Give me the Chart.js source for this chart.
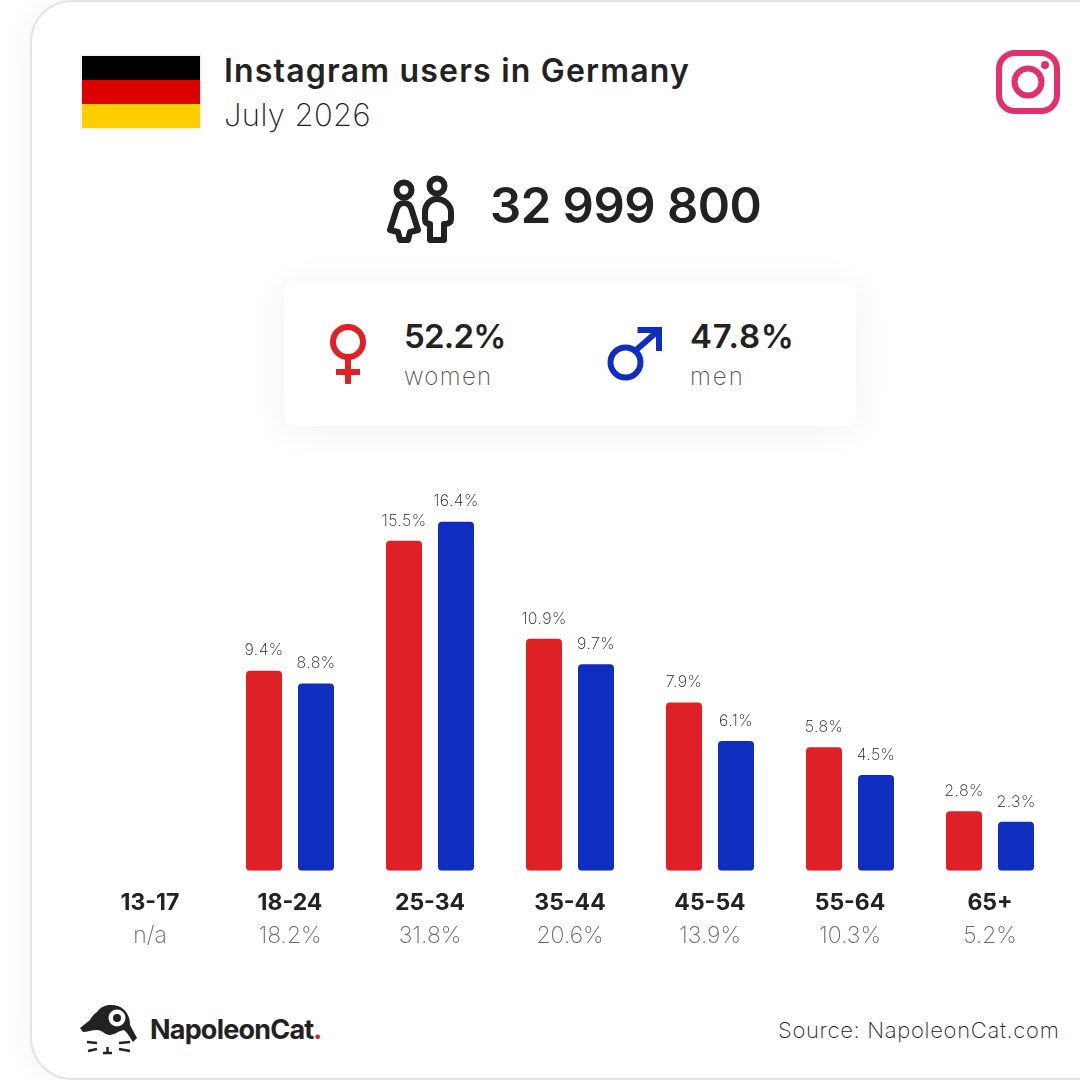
<!DOCTYPE html>
<html>
<head>
<meta charset="utf-8">
<script src="https://cdn.jsdelivr.net/npm/chart.js@4/dist/chart.umd.min.js"></script>
<style>
html, body { margin: 0; padding: 0; background: #fff; width: 1080px; height: 1080px; overflow: hidden; }
body { position: relative; font-family: Inter, sans-serif; color: #222; }
.card { position: absolute; left: 30px; top: 0; width: 1200px; height: 1076px; border: 2px solid #e3e3e3; border-radius: 42px; background: #fff; box-shadow: 0 0 34px rgba(0,0,0,.05); }
.panel { position: absolute; left: 284px; top: 282px; width: 572px; height: 144px; border-radius: 9px; background: #fff; box-shadow: 0 4px 40px rgba(0,0,0,.06); }
.t { position: absolute; white-space: nowrap; line-height: 1; }
svg.icons { position: absolute; left: 0; top: 0; }
canvas { position: absolute; left: 0; top: 0; }
</style>
</head>
<body>
<div class="card"></div>
<div class="panel"></div>

<svg class="icons" width="1080" height="1080" viewBox="0 0 1080 1080">
  <!-- flag -->
  <rect x="80" y="54" width="122" height="76" fill="#f3f3f3"/>
  <rect x="82" y="56" width="118" height="24" fill="#000"/>
  <rect x="82" y="80" width="118" height="24" fill="#dd0000"/>
  <rect x="82" y="104" width="118" height="24" fill="#ffce00"/>
  <!-- instagram -->
  <g fill="none" stroke="#e1306c" stroke-width="6">
    <rect x="999" y="53" width="58" height="58" rx="16"/>
    <circle cx="1028" cy="82" r="13.5"/>
  </g>
  <circle cx="1045" cy="65" r="4" fill="#e1306c"/>
  <!-- people -->
  <g fill="none" stroke="#222" stroke-width="6" stroke-linejoin="round">
    <circle cx="404" cy="190" r="7.5"/>
    <circle cx="437" cy="186" r="7.5"/>
    <path d="M404 203 C399 203 397 206 396 211 L390 230 L398 232 L400 240 H408 L410 232 L418 230 L412 211 C411 206 409 203 404 203 Z"/>
    <path d="M437 199 C430 199 425 205 425 212 V219 Q425 224 430 224 V240 H444 V224 Q451 224 451 219 V212 C451 205 444 199 437 199 Z"/>
  </g>
  <!-- female -->
  <circle cx="348" cy="342" r="15" fill="none" stroke="#e02027" stroke-width="6"/>
  <path d="M348 358 V384 M336 372 H360" fill="none" stroke="#e02027" stroke-width="6"/>
  <!-- male -->
  <circle cx="625.5" cy="362.5" r="15" fill="none" stroke="#0f2dbf" stroke-width="6"/>
  <path d="M635 351 L659 330 M637.5 330 H659 V351" fill="none" stroke="#0f2dbf" stroke-width="6"/>
  <!-- napoleon cat -->
  <path fill="#222" d="M80 1028 L90 1020 Q93 1014 97 1012 C101 1007 105 1005 110 1005 C122 1004 130 1013 130 1025 L137 1038 L133 1042 L127 1033 L124 1030 C118 1031 114 1035 110 1035 C105 1035 102 1030 97 1030 C92 1030 87 1032 83 1032 Z"/>
  <circle cx="117" cy="1018" r="8.5" fill="#fff"/>
  <circle cx="117" cy="1018" r="4" fill="#222"/>
  <path d="M87 1042 L97 1043 M88 1051 L97 1049 M119 1043 L130 1042 M119 1049 L130 1051 M103 1053 H112 M107.5 1047 V1053" fill="none" stroke="#222" stroke-width="2.4"/>
</svg>

<div class="t" style="left:224px;top:55px;font-size:32px;font-weight:600;letter-spacing:1.2px">Instagram users in Germany</div>
<div class="t" style="left:224px;top:99px;font-size:31px;font-weight:200;letter-spacing:.4px">July 2026</div>
<div class="t" style="left:490px;top:181px;font-size:49px;font-weight:600;letter-spacing:-.5px">32 999 800</div>
<div class="t" style="left:404px;top:320px;font-size:33px;font-weight:600;letter-spacing:-.8px">52.2%</div>
<div class="t" style="left:404px;top:365px;font-size:24px;font-weight:200;letter-spacing:1.3px;color:#555">women</div>
<div class="t" style="left:690px;top:320px;font-size:33px;font-weight:600;letter-spacing:.8px">47.8%</div>
<div class="t" style="left:690px;top:365px;font-size:24px;font-weight:200;letter-spacing:2px;color:#555">men</div>
<div class="t" style="left:150px;top:1016px;font-size:27px;font-weight:700;letter-spacing:-.8px">NapoleonCat<span style="color:#e02027">.</span></div>
<div class="t" style="left:778px;top:1019px;font-size:22px;font-weight:200;letter-spacing:.7px;color:#222">Source: NapoleonCat.com</div>

<canvas id="bars" width="1080" height="1080"></canvas>

<script>
const ageGroups = ["13-17", "18-24", "25-34", "35-44", "45-54", "55-64", "65+"];
const groupTotals = ["n/a", "18.2%", "31.8%", "20.6%", "13.9%", "10.3%", "5.2%"];
const women = [null, 9.4, 15.5, 10.9, 7.9, 5.8, 2.8];
const men = [null, 8.8, 16.4, 9.7, 6.1, 4.5, 2.3];

// percent labels over the bars
const barLabels = {
  id: 'barLabels',
  afterDatasetsDraw(chart) {
    const ctx = chart.ctx;
    ctx.save();
    ctx.font = '200 16px Inter';
    ctx.letterSpacing = '0.4px';
    ctx.fillStyle = '#222';
    ctx.textAlign = 'center';
    ctx.textBaseline = 'middle';
    chart.data.datasets.forEach((ds, i) => {
      chart.getDatasetMeta(i).data.forEach((bar, j) => {
        if (ds.data[j] === null) return;
        ctx.fillText(ds.data[j].toFixed(1) + '%', bar.x, bar.y - 20);
      });
    });
    ctx.restore();
  }
};

new Chart(document.getElementById("bars"), {
  type: 'bar',
  data: {
    labels: ageGroups,
    datasets: [
      { label: "women", data: women, backgroundColor: "#e02027" },
      { label: "men", data: men, backgroundColor: "#0f2dbf" }
    ]
  },
  options: {
    responsive: false,
    animation: false,
    devicePixelRatio: 1,
    categoryPercentage: 104 / 140,
    barPercentage: 36 / 52,
    borderRadius: 4,
    borderSkipped: false,
    layout: { padding: { left: 80, right: 20, top: 445, bottom: 123.6 } },
    plugins: { legend: { display: false }, tooltip: { enabled: false } },
    scales: {
      y: { display: false, min: 0, max: 20 },
      x: {
        grid: { display: false, drawTicks: false },
        border: { display: false },
        // the two tick rows sit closer than the default padding allows
        afterFit(scale) { scale.height = 44; },
        ticks: { color: '#222', font: { family: 'Inter', size: 23, weight: '700' }, padding: 18, maxRotation: 0, autoSkip: false }
      },
      x2: {
        type: 'category',
        position: 'bottom',
        labels: groupTotals,
        offset: true,
        grid: { display: false, drawTicks: false },
        border: { display: false },
        ticks: { color: '#666', font: { family: 'Inter', size: 23, weight: '200' }, padding: 7, maxRotation: 0, autoSkip: false }
      }
    }
  },
  plugins: [barLabels]
});
</script>
</body>
</html>
